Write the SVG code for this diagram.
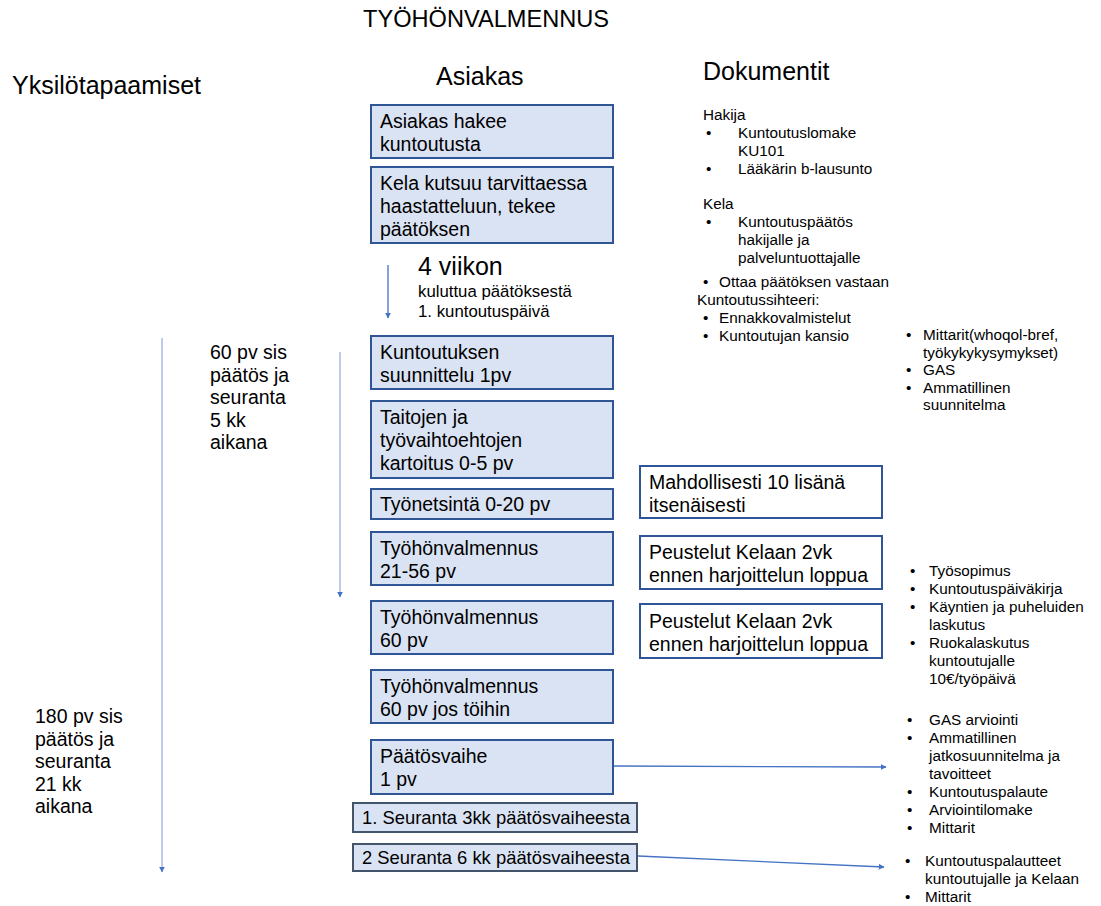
<svg xmlns="http://www.w3.org/2000/svg" width="1101" height="906" viewBox="0 0 1101 906">
<defs>
<style>
text{font-family:"Liberation Sans",Arial,sans-serif;fill:#000}
.t{font-size:23.6px}
.h{font-size:25px}
.b{font-size:19.5px}
.d{font-size:15.3px}
.s{font-size:18.4px}
.w{font-size:16.8px}
.box{fill:#dae3f3;stroke:#2f5597;stroke-width:2}
.box2{fill:#dae3f3;stroke:#44546a;stroke-width:2}
.wbox{fill:#fff;stroke:#2f5597;stroke-width:2}
.ln{stroke:#4472c4;stroke-width:1.3;fill:none}
.lt{stroke:#8faadc;stroke-width:1.2;fill:none}
</style>
<marker id="ah" viewBox="0 0 10 10" refX="9" refY="5" markerWidth="6" markerHeight="6" orient="auto" markerUnits="userSpaceOnUse"><path d="M0,0L10,5L0,10z" fill="#4472c4"/></marker>
</defs>
<rect width="1101" height="906" fill="#fff"/>

<g id="headers">
<text class="t" x="363" y="27">TYÖHÖNVALMENNUS</text>
<text class="h" x="12" y="94">Yksilötapaamiset</text>
<text class="h" x="436" y="85">Asiakas</text>
<text class="h" x="703" y="80">Dokumentit</text>
</g>

<g id="connectors">
<line class="ln" x1="388" y1="265" x2="388" y2="318" marker-end="url(#ah)"/>
<line class="lt" x1="162" y1="338" x2="162" y2="872" marker-end="url(#ah)"/>
<line class="lt" x1="340" y1="352" x2="340" y2="597" marker-end="url(#ah)"/>
<line class="ln" x1="614" y1="766" x2="886" y2="767" marker-end="url(#ah)"/>
<line class="ln" x1="638" y1="856" x2="884" y2="867" marker-end="url(#ah)"/>
</g>

<g id="n1"><rect class="box" x="371" y="105" width="242" height="53"/>
<text class="b" x="380" y="128">Asiakas hakee</text><text class="b" x="380" y="151">kuntoutusta</text></g>
<g id="n2"><rect class="box" x="371" y="167" width="242" height="76"/>
<text class="b" x="380" y="190">Kela kutsuu tarvittaessa</text><text class="b" x="380" y="213">haastatteluun, tekee</text><text class="b" x="380" y="236">päätöksen</text></g>

<g id="wait">
<text class="h" x="418" y="275">4 viikon</text>
<text class="w" x="418" y="297">kuluttua päätöksestä</text>
<text class="w" x="418" y="317">1. kuntoutuspäivä</text>
</g>

<g id="label60">
<text class="b" x="210" y="359">60 pv sis</text><text class="b" x="210" y="381.5">päätös ja</text><text class="b" x="210" y="404">seuranta</text><text class="b" x="210" y="426.5">5 kk</text><text class="b" x="210" y="449">aikana</text>
</g>
<g id="label180">
<text class="b" x="35" y="723">180 pv sis</text><text class="b" x="35" y="745.5">päätös ja</text><text class="b" x="35" y="768">seuranta</text><text class="b" x="35" y="790.5">21 kk</text><text class="b" x="35" y="813">aikana</text>
</g>

<g id="n3"><rect class="box" x="371" y="336" width="242" height="53"/>
<text class="b" x="380" y="359">Kuntoutuksen</text><text class="b" x="380" y="382">suunnittelu  1pv</text></g>
<g id="n4"><rect class="box" x="371" y="401" width="242" height="77"/>
<text class="b" x="380" y="424">Taitojen ja</text><text class="b" x="380" y="447">työvaihtoehtojen</text><text class="b" x="380" y="470">kartoitus 0-5 pv</text></g>
<g id="n5"><rect class="box" x="371" y="489" width="242" height="30"/>
<text class="b" x="380" y="511">Työnetsintä 0-20 pv</text></g>
<g id="n6"><rect class="box" x="371" y="532" width="242" height="53"/>
<text class="b" x="380" y="555">Työhönvalmennus</text><text class="b" x="380" y="578">21-56 pv</text></g>
<g id="n7"><rect class="box" x="371" y="601" width="242" height="53"/>
<text class="b" x="380" y="624">Työhönvalmennus</text><text class="b" x="380" y="647">60 pv</text></g>
<g id="n8"><rect class="box" x="371" y="670" width="242" height="53"/>
<text class="b" x="380" y="693">Työhönvalmennus</text><text class="b" x="380" y="716">60 pv jos töihin</text></g>
<g id="n9"><rect class="box" x="371" y="740" width="242" height="54"/>
<text class="b" x="380" y="763">Päätösvaihe</text><text class="b" x="380" y="786">1 pv</text></g>
<g id="n10"><rect class="box2" x="353" y="803" width="284" height="29"/>
<text class="s" x="362" y="824">1. Seuranta 3kk päätösvaiheesta</text></g>
<g id="n11"><rect class="box2" x="353" y="844" width="284" height="27"/>
<text class="s" x="362" y="864">2 Seuranta 6 kk päätösvaiheesta</text></g>

<g id="w1"><rect class="wbox" x="640" y="466" width="242" height="52"/>
<text class="b" x="649" y="489">Mahdollisesti 10 lisänä</text><text class="b" x="649" y="511.5">itsenäisesti</text></g>
<g id="w2"><rect class="wbox" x="640" y="536" width="242" height="53"/>
<text class="b" x="649" y="559">Peustelut Kelaan 2vk</text><text class="b" x="649" y="582">ennen harjoittelun loppua</text></g>
<g id="w3"><rect class="wbox" x="640" y="604" width="242" height="54"/>
<text class="b" x="649" y="628">Peustelut Kelaan 2vk</text><text class="b" x="649" y="651">ennen harjoittelun loppua</text></g>

<g id="docs1">
<text class="d" x="703" y="120">Hakija</text>
<text class="d" x="706" y="138">•</text><text class="d" x="738" y="138">Kuntoutuslomake</text>
<text class="d" x="738" y="156">KU101</text>
<text class="d" x="706" y="174">•</text><text class="d" x="738" y="174">Lääkärin b-lausunto</text>
<text class="d" x="703" y="209">Kela</text>
<text class="d" x="706" y="227">•</text><text class="d" x="738" y="227">Kuntoutuspäätös</text>
<text class="d" x="738" y="245">hakijalle ja</text>
<text class="d" x="738" y="263">palveluntuottajalle</text>
<text class="d" x="703" y="287">•</text><text class="d" x="719" y="287">Ottaa päätöksen vastaan</text>
<text class="d" x="697" y="305">Kuntoutussihteeri:</text>
<text class="d" x="703" y="323">•</text><text class="d" x="719" y="323">Ennakkovalmistelut</text>
<text class="d" x="703" y="341">•</text><text class="d" x="719" y="341">Kuntoutujan kansio</text>
</g>
<g id="docs2">
<text class="d" x="906" y="340">•</text><text class="d" x="923" y="340">Mittarit(whoqol-bref,</text>
<text class="d" x="923" y="357.5">työkykykysymykset)</text>
<text class="d" x="906" y="375">•</text><text class="d" x="923" y="375">GAS</text>
<text class="d" x="906" y="392.5">•</text><text class="d" x="923" y="392.5">Ammatillinen</text>
<text class="d" x="923" y="410">suunnitelma</text>
</g>
<g id="docs3">
<text class="d" x="910" y="576">•</text><text class="d" x="929" y="576">Työsopimus</text>
<text class="d" x="910" y="594">•</text><text class="d" x="929" y="594">Kuntoutuspäiväkirja</text>
<text class="d" x="910" y="612">•</text><text class="d" x="929" y="612">Käyntien ja puheluiden</text>
<text class="d" x="929" y="630">laskutus</text>
<text class="d" x="910" y="648">•</text><text class="d" x="929" y="648">Ruokalaskutus</text>
<text class="d" x="929" y="666">kuntoutujalle</text>
<text class="d" x="929" y="684">10€/työpäivä</text>
</g>
<g id="docs4">
<text class="d" x="907" y="725">•</text><text class="d" x="929" y="725">GAS arviointi</text>
<text class="d" x="907" y="743">•</text><text class="d" x="929" y="743">Ammatillinen</text>
<text class="d" x="929" y="761">jatkosuunnitelma ja</text>
<text class="d" x="929" y="779">tavoitteet</text>
<text class="d" x="907" y="797">•</text><text class="d" x="929" y="797">Kuntoutuspalaute</text>
<text class="d" x="907" y="815">•</text><text class="d" x="929" y="815">Arviointilomake</text>
<text class="d" x="907" y="833">•</text><text class="d" x="929" y="833">Mittarit</text>
</g>
<g id="docs5">
<text class="d" x="905" y="866">•</text><text class="d" x="925" y="866">Kuntoutuspalautteet</text>
<text class="d" x="925" y="884">kuntoutujalle ja Kelaan</text>
<text class="d" x="905" y="902">•</text><text class="d" x="925" y="902">Mittarit</text>
</g>
</svg>
